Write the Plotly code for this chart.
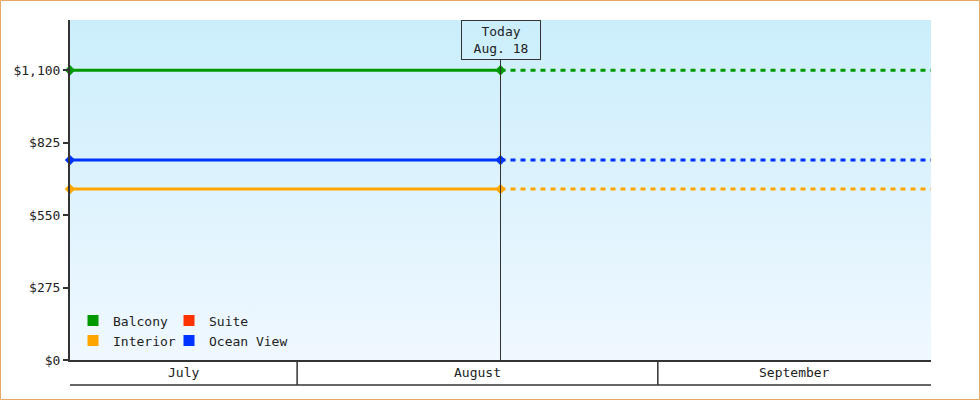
import pandas as pd
import plotly.graph_objects as go

# data
series_names = ["Balcony", "Suite", "Interior", "Ocean View"]
series_colors = ["#009900", "#ff3300", "#ffa500", "#0033ff"]
series_prices = [1100, None, 649, 759]

today = pd.Timestamp("2024-08-18 11:30")
range_start = pd.Timestamp("2024-07-12 11:30")
range_end = pd.Timestamp("2024-09-24 11:30")
today_label = "Today<br>Aug. 18"

month_names = ["July", "August", "September"]
month_starts = ["2024-07-01", "2024-08-01", "2024-09-01", "2024-10-01"]

y_ticks = [0, 275, 550, 825, 1100]
y_labels = ["$0", "$275", "$550", "$825", "$1,100"]
y_max = 1291

# page geometry
W, H = 980, 400
L, R, T, B = 70, 49, 20, 40
pw, ph = W - L - R, H - T - B
band = 25  # height of the month strip under the plot
ink = "#333333"
font = "DejaVu Sans Mono"

# legend grid: 2 columns x 2 rows in the lower left corner
legend_ids = ["legend", "legend3", "legend2", "legend4"]
legend_cols = [0, 1, 0, 1]
legend_rows = [0, 0, 1, 1]

fig = go.Figure()

# light blue vertical gradient behind the lines
fig.add_trace(go.Scatter(
    x=[range_start, range_end, range_end, range_start, range_start],
    y=[0, 0, y_max, y_max, 0],
    mode="none", fill="toself",
    fillgradient=dict(type="vertical", colorscale=[[0, "#f0f8ff"], [1, "#cbeefc"]]),
    hoverinfo="skip", showlegend=False,
))

for name, color, price, lg in zip(series_names, series_colors, series_prices, legend_ids):
    if price is not None:
        # known prices up to today
        fig.add_trace(go.Scatter(
            x=[range_start, today], y=[price, price], mode="lines+markers",
            line=dict(color=color, width=3),
            marker=dict(symbol="diamond", size=8, color=color),
            cliponaxis=False, showlegend=False, name=name,
        ))
        # projection after today
        fig.add_trace(go.Scatter(
            x=[today, range_end], y=[price, price], mode="lines",
            line=dict(color=color, width=3, dash="5px,5px"),
            showlegend=False, name=name,
        ))
    # legend swatch
    fig.add_trace(go.Scatter(
        x=[None], y=[None], mode="markers", name=name, legend=lg,
        marker=dict(symbol="square", size=11, color=color),
    ))

# today marker line and label
fig.add_shape(type="line", xref="x", yref="paper", x0=today, x1=today,
              y0=0, y1=(ph - 40) / ph, line=dict(color=ink, width=1))
fig.add_annotation(x=today, xref="x", y=1, yref="paper", yanchor="top",
                   text=today_label, showarrow=False, align="center",
                   width=74, height=34, borderpad=2, borderwidth=1,
                   bordercolor=ink, bgcolor="rgba(0,0,0,0)",
                   font=dict(family=font, size=13, color="#222"))

# month strip under the plot
fig.add_shape(type="line", xref="paper", yref="paper", x0=0, x1=1,
              y0=-band / ph, y1=-band / ph, line=dict(color=ink, width=1.5))
starts = [pd.Timestamp(s) for s in month_starts]
for i, m in enumerate(month_names):
    a = max(starts[i], range_start)
    b = min(starts[i + 1], range_end)
    fig.add_annotation(x=a + (b - a) / 2, xref="x", y=-band / 2 / ph, yref="paper",
                       text=m, showarrow=False, yanchor="middle",
                       font=dict(family=font, size=13, color="#222"))
    if range_start < starts[i] < range_end:
        fig.add_shape(type="line", xref="x", yref="paper", x0=starts[i], x1=starts[i],
                      y0=0, y1=-band / ph, line=dict(color=ink, width=1.5))

# outer frame of the picture
fig.add_shape(type="rect", xref="paper", yref="paper",
              x0=(0.5 - L) / pw, x1=(W - 0.5 - L) / pw,
              y0=-(B - 0.5) / ph, y1=(ph + T - 0.5) / ph,
              line=dict(color="#e8a865", width=1))

legends = {}
for lg, col, row in zip(legend_ids, legend_cols, legend_rows):
    legends[lg] = dict(
        orientation="h", xanchor="left", yanchor="middle",
        x=(3 + col * 96) / pw, y=(39.5 - row * 20) / ph,
        bgcolor="rgba(0,0,0,0)", borderwidth=0,
        font=dict(family=font, size=13, color="#222"),
    )

fig.update_layout(
    width=W, height=H,
    margin=dict(l=L, r=R, t=T, b=B),
    paper_bgcolor="white", plot_bgcolor="white",
    font=dict(family=font, size=13, color="#222"),
    showlegend=True,
    xaxis=dict(range=[range_start, range_end], showgrid=False, zeroline=False,
               showticklabels=False, ticks="", showline=True,
               linecolor=ink, linewidth=1.5),
    yaxis=dict(range=[0, y_max], tickvals=y_ticks, ticktext=y_labels,
               showgrid=False, zeroline=False, showline=True, linecolor=ink,
               linewidth=2, ticks="outside", ticklen=5, tickwidth=2, tickcolor=ink,
               tickfont=dict(family=font, size=13, color="#222")),
    **legends,
)

fig.write_html("out.html", config={"displayModeBar": False},
               post_script="document.body.style.margin='0';")
